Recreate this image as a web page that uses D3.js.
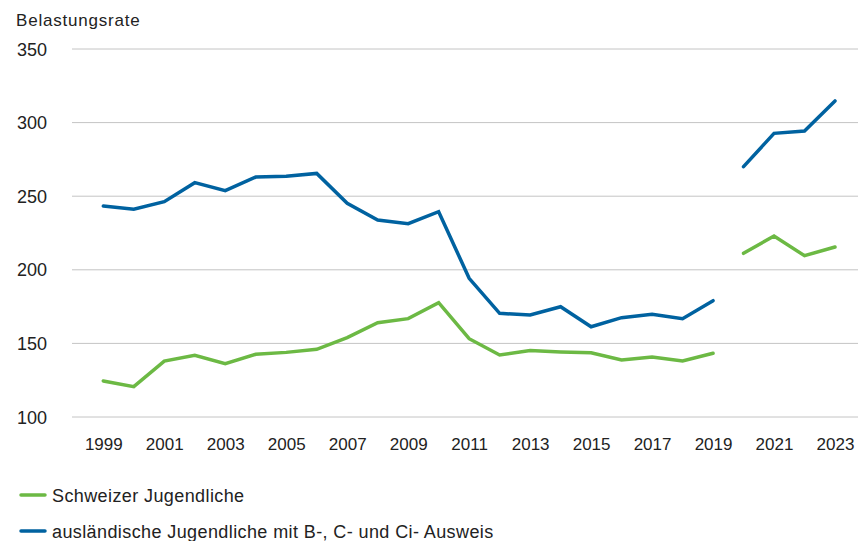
<!DOCTYPE html>
<html>
<head>
<meta charset="utf-8">
<script src="https://cdn.jsdelivr.net/npm/d3@7"></script>
<style>
  html, body { margin: 0; padding: 0; background: #fff; }
  svg { display: block; font-family: "Liberation Sans", Arial, sans-serif; }
</style>
</head>
<body>
<svg id="chart" width="858" height="541"></svg>
<script>
// Belastungsrate by year; the series break between 2019 and 2020
const years = d3.range(1999, 2024);
const schweizer = [124.5, 120.6, 138.0, 141.9, 136.2, 142.6, 143.9, 146.0, 153.9, 164.1, 166.8, 177.7,
                   153.2, 142.1, 145.1, 144.2, 143.7, 138.7, 140.8, 138.0, 143.3,
                   211.2, 223.0, 209.6, 215.5];
const auslaendisch = [243.3, 241.1, 246.3, 259.2, 253.8, 263.0, 263.5, 265.5, 245.2, 233.8, 231.3, 239.5,
                      194.2, 170.4, 169.3, 174.9, 161.3, 167.5, 169.8, 166.8, 179.0,
                      270.1, 292.7, 294.3, 314.7];
const breakAfter = 2019;
const yTicks = [100, 150, 200, 250, 300, 350];
const xTicks = d3.range(1999, 2024, 2);
const seriesNames = ["Schweizer Jugendliche", "ausländische Jugendliche mit B-, C- und Ci- Ausweis"];
const seriesColors = ["#6cb944", "#0062a0"];

const svg = d3.select("#chart");
const x = d3.scaleLinear().domain([1999, 2023]).range([103.3, 835]);
const y = d3.scaleLinear().domain([100, 350]).range([417, 49]);

// title
svg.append("text").attr("x", 16).attr("y", 25.5)
  .attr("font-size", 17).attr("letter-spacing", 0.8)
  .attr("fill", "#222").text("Belastungsrate");

// horizontal gridlines + y labels
const gy = svg.append("g");
gy.selectAll("line").data(yTicks).join("line")
  .attr("x1", 72).attr("x2", 858)
  .attr("y1", d => y(d)).attr("y2", d => y(d))
  .attr("stroke", "#c4c4c4").attr("stroke-width", 1);
gy.selectAll("text").data(yTicks).join("text")
  .attr("x", 17).attr("y", d => y(d) + 6.5)
  .attr("font-size", 18).attr("fill", "#222").text(d => d);

// x labels
const xAxis = d3.axisBottom(x).tickValues(xTicks).tickSize(0).tickFormat(d3.format("d"));
const gx = svg.append("g").attr("transform", "translate(0,435)").call(xAxis);
gx.select(".domain").remove();
gx.selectAll("text").attr("font-size", 17).attr("fill", "#222")
  .attr("font-family", "inherit");

// lines, split into two periods by an undefined point
const line = d3.line()
  .defined(d => d.v != null)
  .x(d => x(d.year)).y(d => y(d.v));

[schweizer, auslaendisch].forEach((vals, i) => {
  const pts = years.map((yr, k) => ({ year: yr, v: vals[k] }));
  const idx = years.indexOf(breakAfter) + 1;
  pts.splice(idx, 0, { year: breakAfter + 0.5, v: null });
  svg.append("path").datum(pts)
    .attr("fill", "none").attr("stroke", seriesColors[i])
    .attr("stroke-width", 3.5).attr("stroke-linejoin", "miter")
    .attr("stroke-linecap", "round")
    .attr("d", line);
});

// legend
const lg = svg.append("g");
seriesNames.forEach((name, i) => {
  const cy = 495 + i * 36;
  lg.append("line").attr("x1", 21).attr("x2", 45).attr("y1", cy).attr("y2", cy)
    .attr("stroke", seriesColors[i]).attr("stroke-width", 3.5).attr("stroke-linecap", "round");
  lg.append("text").attr("x", 52).attr("y", cy + 6.5)
    .attr("font-size", 18).attr("letter-spacing", 0.4)
    .attr("fill", "#222").text(name);
});
</script>
</body>
</html>
